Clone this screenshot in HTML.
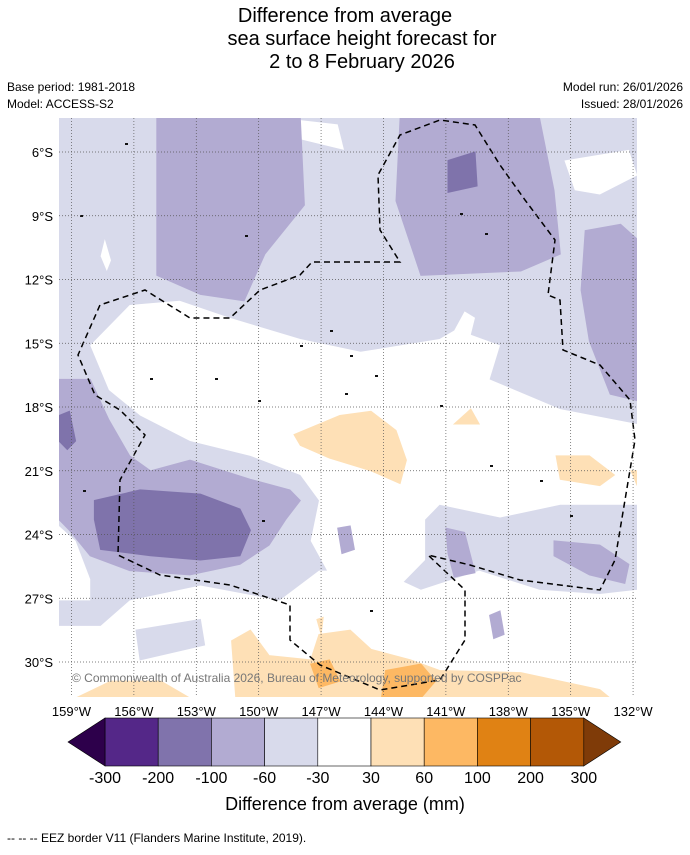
<!DOCTYPE html>
<html><head><meta charset="utf-8"><style>
body{margin:0;background:#fff;font-family:"Liberation Sans",sans-serif}
svg text{font-family:"Liberation Sans",sans-serif}
</style></head><body>
<svg id="s" width="690" height="850" viewBox="0 0 690 850" xmlns="http://www.w3.org/2000/svg">
<text x="345" y="22" font-size="20" text-anchor="middle">Difference from average</text>
<text x="362" y="45" font-size="20" text-anchor="middle">sea surface height forecast for</text>
<text x="362" y="68" font-size="20" text-anchor="middle">2 to 8 February 2026</text>
<text x="7" y="91" font-size="12">Base period: 1981-2018</text>
<text x="7" y="108" font-size="12">Model: ACCESS-S2</text>
<text x="683" y="91" font-size="12" text-anchor="end">Model run: 26/01/2026</text>
<text x="683" y="108" font-size="12" text-anchor="end">Issued: 28/01/2026</text>
<defs><clipPath id="mc"><rect x="59" y="118" width="578" height="579"/></clipPath></defs>
<g id="map" clip-path="url(#mc)"></g>
<g id="axes"></g>
<text x="72" y="682" font-size="12" fill="#777">© Commonwealth of Australia 2026, Bureau of Meteorology, supported by COSPPac</text>
<g id="cbar"></g>
<text x="345" y="810" font-size="18" text-anchor="middle">Difference from average (mm)</text>
<text x="7" y="842" font-size="12">--  --  -- EEZ border V11 (Flanders Marine Institute, 2019).</text>
</svg>
<script>
const NS="http://www.w3.org/2000/svg";
const lonTicks=[-159,-156,-153,-150,-147,-144,-141,-138,-135,-132];
const latTicks=[-6,-9,-12,-15,-18,-21,-24,-27,-30];
const levels=[-300,-200,-100,-60,-30,30,60,100,200,300];
const levelColors=["#542788","#8073ac","#b2abd2","#d8daeb","#ffffff","#fee0b6","#fdb863","#e08214","#b35806"];
const extendColors=["#2d004b","#7f3b08"];
const light="#d8daeb",mid="#b2abd2",dark="#7f73ab",white="#ffffff",or1="#fee0b6",or2="#fdb863";
const regionsWhite=[
[[-158.1,-15.1],[-156.2,-13.2],[-153.8,-13.0],[-151.4,-13.8],[-148.0,-14.8],[-145.1,-15.4],[-141.3,-14.8],[-140.6,-14.4],[-140.1,-13.5],[-139.6,-13.8],[-139.8,-14.6],[-138.4,-15.1],[-138.9,-16.7],[-135.5,-18.1],[-131.8,-18.8],[-131.8,-22.6],[-135.5,-22.6],[-138.4,-23.2],[-141.3,-22.6],[-142.0,-23.3],[-142.0,-25.2],[-143.2,-26.4],[-146.6,-25.9],[-147.5,-24.3],[-147.1,-22.4],[-148.0,-21.2],[-150.4,-20.3],[-153.3,-19.6],[-155.7,-18.4],[-157.2,-17.2]],
[[-159.6,-28.3],[-157.6,-28.3],[-156.2,-27.1],[-152.8,-26.4],[-149.0,-27.1],[-147.1,-25.7],[-144.2,-25.7],[-142.2,-26.6],[-139.4,-25.7],[-136.5,-26.6],[-133.6,-26.8],[-131.8,-26.6],[-131.8,-31.7],[-159.6,-31.7]],
[[-159.6,-23.6],[-158.8,-24.3],[-158.1,-26.1],[-158.1,-27.1],[-159.6,-27.1]],
[[-148,-4.5],[-146.2,-4.7],[-145.9,-5.9],[-148,-5.4]],
[[-135.3,-6.4],[-132.2,-5.9],[-131.8,-7.1],[-133.6,-8.0],[-134.8,-7.8]],
[[-157.4,-10.1],[-157.1,-11.1],[-157.3,-11.6],[-157.6,-10.9]]];
const regionsLight=[[[-155.9,-28.5],[-152.8,-28.0],[-152.6,-29.2],[-155.7,-29.9]]];
const regionsMid=[
[[-154.9,-4.4],[-148.0,-4.4],[-147.8,-8.5],[-149.7,-10.8],[-150.7,-13.0],[-152.8,-12.7],[-154.9,-11.8]],
[[-143.2,-4.4],[-136.5,-4.4],[-135.8,-7.8],[-135.5,-10.8],[-137.4,-11.6],[-142.2,-11.8],[-143.4,-8.3]],
[[-134.3,-9.7],[-132.6,-9.4],[-131.8,-10.1],[-131.8,-17.7],[-133.1,-17.4],[-134.1,-14.9],[-134.5,-12.5]],
[[-159.6,-16.7],[-158.1,-16.7],[-157.2,-18.6],[-156.2,-20.3],[-155.2,-21.0],[-153.3,-20.5],[-150.4,-21.4],[-148.5,-21.9],[-148.0,-22.4],[-148.7,-23.3],[-149.5,-24.5],[-150.9,-25.4],[-153.3,-25.9],[-156.2,-25.7],[-158.1,-25.0],[-159.1,-23.8],[-159.6,-23.3]],
[[-146.2,-23.7],[-145.6,-23.6],[-145.4,-24.7],[-146.0,-24.9]],
[[-141.0,-23.7],[-140.1,-23.9],[-139.6,-25.8],[-140.6,-26.0],[-140.9,-24.9]],
[[-135.8,-24.3],[-133.6,-24.5],[-132.2,-25.4],[-132.4,-26.3],[-134.1,-25.9],[-135.8,-25.0]],
[[-138.9,-27.8],[-138.4,-27.6],[-138.2,-28.7],[-138.7,-28.9]]];
const regionsDark=[
[[-159.6,-18.4],[-159.1,-18.2],[-158.8,-19.6],[-159.2,-20.0],[-159.6,-19.6]],
[[-157.9,-22.4],[-155.7,-21.9],[-152.8,-22.1],[-150.9,-22.8],[-150.4,-23.8],[-150.9,-25.0],[-152.8,-25.2],[-155.2,-25.0],[-157.6,-24.7],[-157.9,-23.3]],
[[-140.9,-6.4],[-139.6,-6.0],[-139.5,-7.6],[-140.9,-7.9]]];
const regionsOr1=[
[[-148.3,-19.3],[-146.1,-18.4],[-144.6,-18.2],[-143.4,-19.1],[-142.9,-20.5],[-143.2,-21.6],[-144.6,-21.0],[-146.6,-20.4],[-148.0,-19.8]],
[[-140.6,-18.8],[-139.8,-18.1],[-139.4,-18.8]],
[[-135.7,-20.3],[-134.1,-20.3],[-132.9,-21.2],[-133.6,-21.7],[-135.5,-21.4]],
[[-132.1,-21.0],[-131.8,-21.0],[-131.8,-21.7]],
[[-151.3,-29.0],[-150.4,-28.5],[-149.5,-29.7],[-147.5,-29.9],[-147.1,-28.7],[-145.6,-28.5],[-144.6,-29.4],[-142.7,-29.9],[-141.3,-30.4],[-137.4,-30.5],[-135.5,-30.9],[-133.6,-31.3],[-133.1,-31.7],[-151.1,-31.7]],
[[-158.8,-31.7],[-157.1,-30.9],[-154.7,-30.9],[-153.3,-31.7]],
[[-147.2,-28.0],[-146.9,-27.9],[-147.0,-28.7]]];
const regionsOr2=[
[[-147.5,-30.1],[-146.6,-29.9],[-146.1,-30.9],[-147.1,-31.2]],
[[-143.9,-30.4],[-142.2,-30.1],[-141.5,-30.9],[-142.2,-31.7],[-144.1,-31.7]]];
const X0=59,PXD=20.8,LON0=-159.6,Y0=118,PYD=21.25,LAT0=-4.4;
const px=lon=>X0+(lon-LON0)*PXD, py=lat=>Y0+(LAT0-lat)*PYD;
function mk(t,a,p){const e=document.createElementNS(NS,t);for(const k in a)e.setAttribute(k,a[k]);(p||document.getElementById('s')).appendChild(e);return e;}
const map=document.getElementById('map');
const bg=mk('rect',{x:59,y:118,width:578,height:579,fill:light},map);


function draw(list,col,name){list.forEach(r=>{const e=mk('polygon',{points:r.map(p=>px(p[0]).toFixed(1)+','+py(p[1]).toFixed(1)).join(' '),fill:col,stroke:col==white?'none':col,'stroke-width':1},map);

});}
draw(regionsWhite,white,'contour-white');draw(regionsLight,light,'contour-light-purple');draw(regionsMid,mid,'contour-mid-purple');draw(regionsDark,dark,'contour-dark-purple');draw(regionsOr1,or1,'contour-light-orange');draw(regionsOr2,or2,'contour-mid-orange');
const eez=mk('path',{d:"M400,262 L312,262 300,275 260,290 230,318 190,318 145,290 100,305 78,355 95,395 120,410 145,435 120,480 118,555 160,575 230,585 290,605 290,640 320,665 380,690 440,680 465,640 465,590 428,555 470,565 520,580 600,590 615,560 630,470 635,440 630,400 600,365 563,350 560,300 548,295 555,240 525,200 500,165 475,125 440,120 400,135 378,175 380,230 Z",fill:'none',stroke:'#000','stroke-width':1.5,'stroke-dasharray':'6,4'},map);


[[330,330],[300,345],[350,355],[215,378],[258,400],[375,375],[440,405],[490,465],[540,480],[570,515],[460,213],[485,233],[80,215],[125,143],[245,235],[83,490],[262,520],[370,610],[150,378],[345,393]].forEach(p=>{const e=mk('rect',{x:p[0],y:p[1],width:3,height:2,fill:'#111'},map);

});
const ax=document.getElementById('axes');
lonTicks.forEach(l=>{const x=px(l);const g=mk('line',{x1:x,y1:118,x2:x,y2:697,stroke:'#555','stroke-width':0.7,'stroke-dasharray':'1,2'},ax);


const t=mk('text',{x:x,y:716,'font-size':13,'text-anchor':'middle'},ax);t.textContent=Math.abs(l)+'°W';

});
latTicks.forEach(l=>{const y=py(l);const g=mk('line',{x1:59,y1:y,x2:637,y2:y,stroke:'#555','stroke-width':0.7,'stroke-dasharray':'1,2'},ax);


const t=mk('text',{x:53,y:y+5,'font-size':13,'text-anchor':'end'},ax);t.textContent=Math.abs(l)+'°S';

});
const cb=document.getElementById('cbar');const cx0=105,cw=53.2,cy=718,ch=48;
levelColors.forEach((c,i)=>{const r=mk('rect',{x:cx0+i*cw,y:cy,width:cw,height:ch,fill:c,stroke:'#000','stroke-width':0.6},cb);

});
const xe=cx0+levelColors.length*cw;
const t1=mk('polygon',{points:`${cx0},${cy} 68,${cy+ch/2} ${cx0},${cy+ch}`,fill:extendColors[0],stroke:'#000','stroke-width':0.6},cb);


const t2=mk('polygon',{points:`${xe},${cy} ${xe+37},${cy+ch/2} ${xe},${cy+ch}`,fill:extendColors[1],stroke:'#000','stroke-width':0.6},cb);


levels.forEach((v,i)=>{const t=mk('text',{x:cx0+i*cw,y:783,'font-size':16,'text-anchor':'middle'},cb);t.textContent=v;

});
</script>
</body></html>
